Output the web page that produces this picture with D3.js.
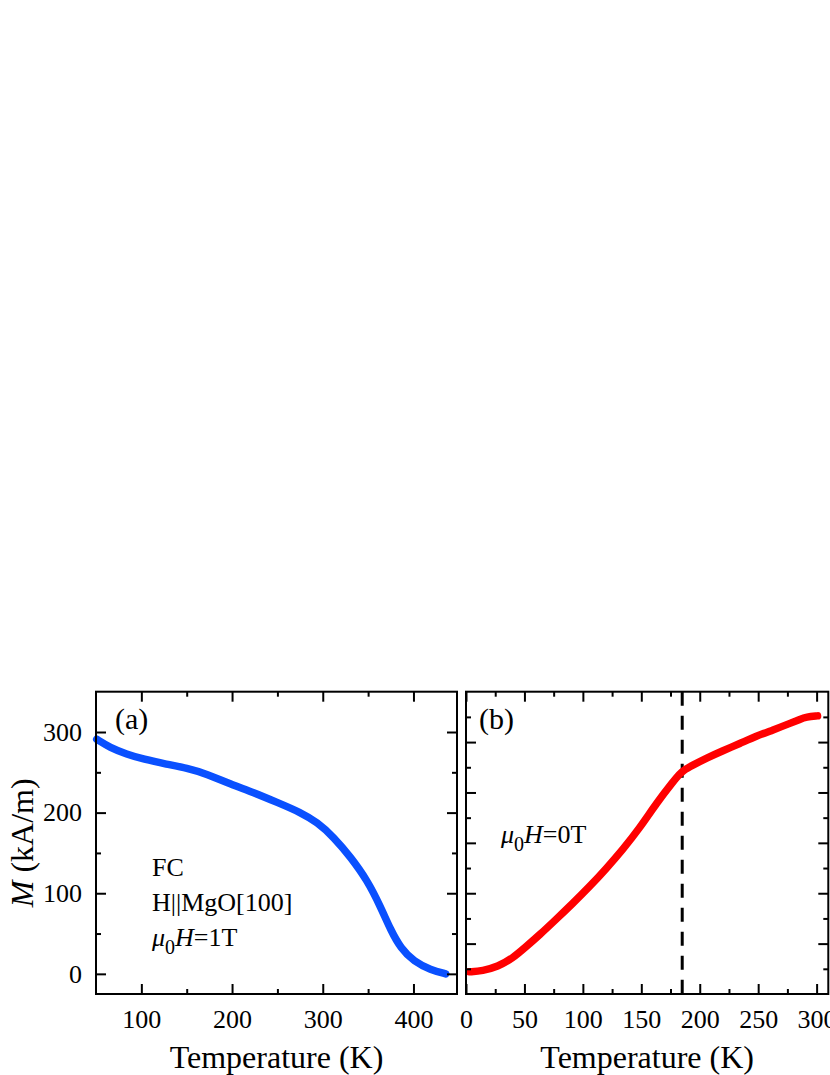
<!DOCTYPE html>
<html>
<head>
<meta charset="utf-8">
<script src="https://cdn.jsdelivr.net/npm/d3@7"></script>
<style>
  body { margin: 0; background: #fff; }
  svg { display: block; }
</style>
</head>
<body>
<div id="chart"></div>
<script>
// panel (a): field cooled M(T), mu0H = 1T
var tempA = [50.8, 65.5, 83.9, 102.3, 128.1, 150.2, 172.3, 198, 223.8, 249.7, 275.4, 293.9, 312.2, 330.7, 349.1, 363.8, 374.9, 386, 400.6, 419, 435.6];
var magA  = [291, 280.6, 272.5, 266.3, 260, 255.2, 247.8, 235.4, 225, 212.7, 200.4, 188, 169.5, 144.8, 116, 83, 54.3, 31.7, 15.2, 4.9, 0];

// panel (b): zero field curve (axis has no labels, arbitrary units)
var tempB = [2.8, 14.2, 27, 40, 51.4, 62.8, 77, 91.4, 105.7, 120, 134.2, 148.5, 162.8, 177, 183, 186, 194, 205.6, 219.9, 234.2, 248.5, 262.7, 277, 285.5, 291.3, 300.8];
var magB  = [0.44, 0.46, 0.54, 0.71, 0.94, 1.17, 1.48, 1.80, 2.13, 2.49, 2.87, 3.29, 3.78, 4.21, 4.37, 4.44, 4.54, 4.68, 4.83, 4.97, 5.12, 5.24, 5.37, 5.45, 5.5, 5.52];
var transitionT = 185;

var xTicksA = [100, 200, 300, 400];
var xMinorA = [150, 250, 350];
var yTicksA = [0, 100, 200, 300];
var yMinorA = [50, 150, 250];
var xTicksB = [0, 50, 100, 150, 200, 250, 300];
var xMinorB = [25, 75, 125, 175, 225, 275];
var yTicksB = [1, 2, 3, 4, 5];
var yMinorB = [0.5, 1.5, 2.5, 3.5, 4.5, 5.5];

var font = "'Liberation Serif', 'Times New Roman', serif";
var top_ = 691.7, bottom = 994;

var svg = d3.select("#chart").append("svg")
  .attr("width", 830).attr("height", 1075);

function drawFrame(x, y, xMaj, xMin, yMaj, yMin, showY) {
  var x0 = x.range()[0], x1 = x.range()[1];
  var g = svg.append("g");

  function style(sel) {
    sel.select(".domain").remove();
    sel.selectAll("line").attr("stroke", "black").attr("stroke-width", 2);
    sel.selectAll("text").attr("font-family", font).attr("font-size", 26).attr("fill", "black");
  }

  // bottom
  g.append("g").attr("transform", "translate(0," + bottom + ")")
    .call(d3.axisBottom(x).tickValues(xMaj).tickSize(-10).tickPadding(16).tickFormat(d3.format("d"))).call(style);
  g.append("g").attr("transform", "translate(0," + bottom + ")")
    .call(d3.axisBottom(x).tickValues(xMin).tickSize(-5).tickFormat("")).call(style);
  // top
  g.append("g").attr("transform", "translate(0," + top_ + ")")
    .call(d3.axisTop(x).tickValues(xMaj).tickSize(-10).tickFormat("")).call(style);
  g.append("g").attr("transform", "translate(0," + top_ + ")")
    .call(d3.axisTop(x).tickValues(xMin).tickSize(-5).tickFormat("")).call(style);
  // left
  g.append("g").attr("transform", "translate(" + x0 + ",0)")
    .call(d3.axisLeft(y).tickValues(yMaj).tickSize(-10).tickPadding(14)
      .tickFormat(showY ? d3.format("d") : "")).call(style);
  g.append("g").attr("transform", "translate(" + x0 + ",0)")
    .call(d3.axisLeft(y).tickValues(yMin).tickSize(-5).tickFormat("")).call(style);
  // right
  g.append("g").attr("transform", "translate(" + x1 + ",0)")
    .call(d3.axisRight(y).tickValues(yMaj).tickSize(-10).tickFormat("")).call(style);
  g.append("g").attr("transform", "translate(" + x1 + ",0)")
    .call(d3.axisRight(y).tickValues(yMin).tickSize(-5).tickFormat("")).call(style);

  g.append("rect")
    .attr("x", x0).attr("y", top_)
    .attr("width", x1 - x0).attr("height", bottom - top_)
    .attr("fill", "none").attr("stroke", "black").attr("stroke-width", 2);

  svg.append("text")
    .attr("x", (x0 + x1) / 2).attr("y", 1068)
    .attr("text-anchor", "middle")
    .attr("font-family", font).attr("font-size", 32)
    .text("Temperature (K)");
}

// ---- panel (a)
var xA = d3.scaleLinear().domain([50, 448]).range([96, 457]);
var yA = d3.scaleLinear().domain([-25, 350]).range([bottom, top_]);

var lineA = d3.line()
  .x(function(d, i) { return xA(tempA[i]); })
  .y(function(d, i) { return yA(magA[i]); })
  .curve(d3.curveBasis);

svg.append("path")
  .datum(tempA)
  .attr("d", lineA)
  .attr("fill", "none")
  .attr("stroke", "#0a50ff")
  .attr("stroke-width", 7.5)
  .attr("stroke-linecap", "round")
  .attr("stroke-linejoin", "round");

drawFrame(xA, yA, xTicksA, xMinorA, yTicksA, yMinorA, true);

var yTitle = svg.append("text")
  .attr("transform", "translate(33," + ((top_ + bottom) / 2) + ") rotate(-90)")
  .attr("text-anchor", "middle")
  .attr("font-family", font).attr("font-size", 32);
yTitle.append("tspan").attr("font-style", "italic").text("M");
yTitle.append("tspan").text(" (kA/m)");

svg.append("text").attr("x", 115).attr("y", 729)
  .attr("font-family", font).attr("font-size", 30).text("(a)");

var notes = ["FC", "H||MgO[100]"];
notes.forEach(function(t, i) {
  svg.append("text").attr("x", 152).attr("y", 876 + i * 35)
    .attr("font-family", font).attr("font-size", 26).text(t);
});

function fieldLabel(x, y, val) {
  var t = svg.append("text").attr("x", x).attr("y", y)
    .attr("font-family", font).attr("font-size", 26);
  t.append("tspan").attr("font-style", "italic").text("μ");
  t.append("tspan").attr("font-size", 20).attr("dy", 8).text("0");
  t.append("tspan").attr("font-style", "italic").attr("dy", -8).text("H");
  t.append("tspan").text("=" + val + "T");
}
fieldLabel(152, 946, 1);

// ---- panel (b)
var xB = d3.scaleLinear().domain([0, 310]).range([466, 828.3]);
var yB = d3.scaleLinear().domain([0, 6]).range([bottom, top_]);

svg.append("line")
  .attr("x1", xB(transitionT)).attr("x2", xB(transitionT))
  .attr("y1", top_).attr("y2", bottom)
  .attr("stroke", "black").attr("stroke-width", 3)
  .attr("stroke-dasharray", "14,10");

var lineB = d3.line()
  .x(function(d, i) { return xB(tempB[i]); })
  .y(function(d, i) { return yB(magB[i]); })
  .curve(d3.curveBasis);

svg.append("path")
  .datum(tempB)
  .attr("d", lineB)
  .attr("fill", "none")
  .attr("stroke", "#ff0000")
  .attr("stroke-width", 7.5)
  .attr("stroke-linecap", "round")
  .attr("stroke-linejoin", "round");

drawFrame(xB, yB, xTicksB, xMinorB, yTicksB, yMinorB, false);

svg.append("text").attr("x", 479).attr("y", 729)
  .attr("font-family", font).attr("font-size", 30).text("(b)");

fieldLabel(501, 843, 0);
</script>
</body>
</html>
